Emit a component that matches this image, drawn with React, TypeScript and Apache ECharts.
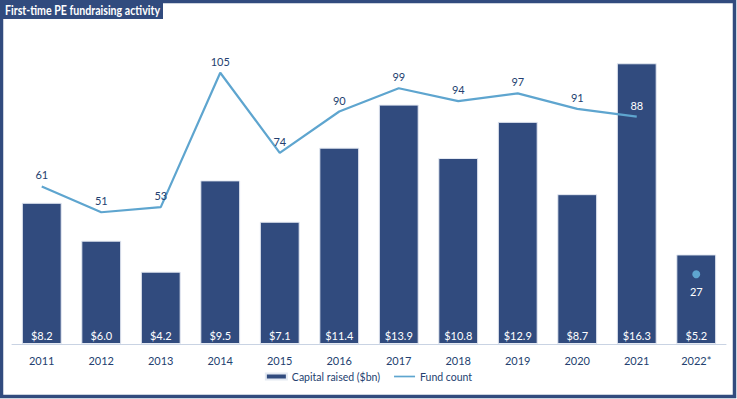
import React, { useEffect, useRef } from "react";
import * as echarts from "echarts";

const categories = ["2011", "2012", "2013", "2014", "2015", "2016", "2017", "2018", "2019", "2020", "2021", "2022*"];
const capitalRaised = [8.2, 6.0, 4.2, 9.5, 7.1, 11.4, 13.9, 10.8, 12.9, 8.7, 16.3, 5.2];
const fundCount: (number | string)[] = [61, 51, 53, 105, 74, 90, 99, 94, 97, 91, 88, "-"];
const fundCount2022: (number | string)[] = ["-", "-", "-", "-", "-", "-", "-", "-", "-", "-", "-", 27];
const whiteLabelIndex = [10];

const NAVY = "#314b7e";
const LINE = "#5ea5cf";
const TEXT = "#243f70";
const FONT = "Lato, 'Open Sans', sans-serif";

export default function App() {
  const ref = useRef<HTMLDivElement>(null);
  useEffect(() => {
    if (!ref.current) return;
    const chart = echarts.init(ref.current, null, { renderer: "svg" });
    chart.setOption({
      animation: false,
      textStyle: { fontFamily: FONT },
      grid: { left: 12, right: 11, top: 34, bottom: 55 },
      xAxis: {
        type: "category",
        data: categories,
        axisLine: { lineStyle: { color: "#c9d3e3", width: 1 } },
        axisTick: { show: false },
        axisLabel: { color: TEXT, fontSize: 11, margin: 11, fontFamily: FONT },
      },
      yAxis: [
        { type: "value", min: 0, max: 18, show: false, splitLine: { show: false } },
        { type: "value", min: 0, max: 120, show: false, splitLine: { show: false } },
      ],
      legend: {
        bottom: 12,
        left: "center",
        itemGap: 14,
        itemWidth: 21,
        itemHeight: 6,
        textStyle: { color: TEXT, fontSize: 10.5, fontFamily: FONT },
        data: [
          { name: "Capital raised ($bn)", icon: "rect" },
          { name: "Fund count", icon: "path://M0,0 L20,0 L20,1.6 L0,1.6 Z" },
        ],
      },
      graphic: [
        {
          type: "rect",
          shape: { x: 1.5, y: 1.5, width: 733, height: 395 },
          style: { fill: "none", stroke: NAVY, lineWidth: 3.5 },
          z: 100,
        },
        {
          type: "rect",
          shape: { x: 0, y: 0, width: 163, height: 19 },
          style: { fill: NAVY },
          z: 101,
        },
        {
          type: "text",
          x: 5,
          y: 10,
          scaleX: 0.85,
          style: {
            text: "First-time PE fundraising activity",
            fill: "#ffffff",
            font: `bold 12.5px ${FONT}`,
            verticalAlign: "middle",
          },
          z: 102,
        },
      ],
      series: [
        {
          name: "Capital raised ($bn)",
          type: "bar",
          data: capitalRaised,
          yAxisIndex: 0,
          barWidth: "67%",
          itemStyle: { color: NAVY, borderColor: "#e4e9f2", borderWidth: 1 },
          label: {
            show: true,
            position: "insideBottom",
            distance: 3,
            color: "#ffffff",
            fontSize: 11,
            fontFamily: FONT,
            formatter: (p: any) => "$" + Number(p.value).toFixed(1),
          },
        },
        {
          name: "Fund count",
          type: "line",
          data: fundCount.map((v, i) =>
            whiteLabelIndex.includes(i) ? { value: v, label: { color: "#ffffff" } } : v
          ),
          yAxisIndex: 1,
          symbol: "circle",
          symbolSize: 0,
          showSymbol: true,
          lineStyle: { color: LINE, width: 2.2 },
          itemStyle: { color: LINE },
          label: {
            show: true,
            position: "top",
            distance: 6,
            color: TEXT,
            fontSize: 11,
            fontFamily: FONT,
          },
          z: 5,
        },
        {
          name: "Fund count",
          type: "line",
          data: fundCount2022,
          yAxisIndex: 1,
          symbol: "circle",
          symbolSize: 8,
          showSymbol: true,
          lineStyle: { color: LINE, width: 2.2 },
          itemStyle: { color: LINE },
          label: {
            show: true,
            position: "bottom",
            distance: 8,
            color: "#ffffff",
            fontSize: 11,
            fontFamily: FONT,
          },
          z: 5,
        },
      ],
    });
    return () => chart.dispose();
  }, []);
  return <div ref={ref} style={{ position: "absolute", left: 0, top: 0, width: 737, height: 399 }} />;
}
